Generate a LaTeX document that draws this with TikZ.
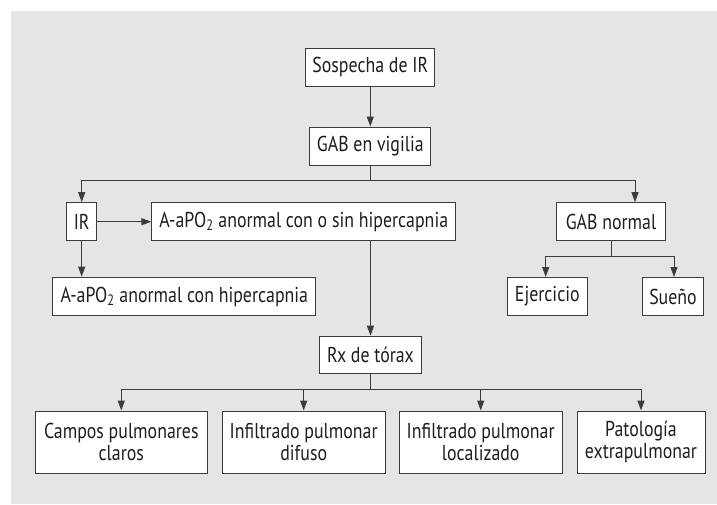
\documentclass[tikz,border=0pt]{standalone}
\usepackage{fontspec}
\setmainfont{PT Sans}[FakeStretch=0.83]
\usetikzlibrary{arrows.meta}
\definecolor{bg}{HTML}{E5E5E5}
\definecolor{ln}{HTML}{3C3C3C}
\definecolor{tx}{HTML}{1E1E1E}
\begin{document}
\begin{tikzpicture}[x=1pt,y=-1pt,
  box/.style={draw=ln,fill=white,line width=1pt,inner sep=0pt,
    minimum height=38pt,minimum width=#1,align=center,text=tx,
    font=\fontsize{21.5}{22.7}\selectfont},
  box/.default=60pt,
  tall/.style={minimum height=62pt},
  conn/.style={draw=ln,line width=1pt},
  arr/.style={conn,-{Triangle[length=10pt,width=7pt]}}]
\useasboundingbox (0,0) rectangle (717,504);
\fill[bg] (11,11) rectangle (717,504);
% nodes
\node[box=129pt] (sosp) at (370.3,67) {Sospecha de IR};
\node[box=121pt] (gab) at (370.3,146) {GAB en vigilia};
\node[box=30pt] (ir) at (81.7,221.7) {IR};
\node[box=304pt] (acs) at (303.8,221.7) {A-aPO\textsubscript{2} anormal con o sin hipercapnia};
\node[box=109pt] (gabn) at (611,221.7) {GAB normal};
\node[box=263pt,minimum height=38.7pt] (ahc) at (184.3,296.5) {A-aPO\textsubscript{2} anormal con hipercapnia};
\node[box=80pt] (ejer) at (547.3,296.5) {Ejercicio};
\node[box=61pt] (sueno) at (673,296.5) {Sueño};
\node[box=102pt,minimum height=37pt] (rx) at (370.5,354.7) {Rx de tórax};
\node[box=172pt,tall] (campos) at (121.3,442) {Campos pulmonares\\claros};
\node[box=163pt,tall] (difuso) at (303.7,442) {Infiltrado pulmonar\\difuso};
\node[box=163pt,tall] (local) at (480.7,442) {Infiltrado pulmonar\\localizado};
\node[box=128pt,tall] (pato) at (641,442) {Patología\\extrapulmonar};
% branch points
\coordinate (b1) at (370.3,180);
\coordinate (b2) at (611,256);
\coordinate (b3) at (370.5,389);
% connectors
\draw[arr] (sosp) -- (gab);
\draw[conn] (gab.south) -- (b1);
\draw[arr] (b1) -| (ir.north);
\draw[arr] (b1) -| ([xshift=24pt]gabn.north);
\draw[arr] (ir.east) -- (acs.west);
\draw[arr] (ir.south) -- (ir.south |- ahc.north);
\draw[arr] (rx.north |- acs.south) -- (rx.north);
\draw[conn] (gabn.south) -- (b2);
\draw[arr] (b2) -| ([xshift=-1.6pt]ejer.north);
\draw[arr] (b2) -| ([xshift=1pt]sueno.north);
\draw[conn] (rx.south) -- (b3);
\draw[arr] (b3) -| (campos.north);
\draw[arr] (b3) -| (difuso.north);
\draw[arr] (b3) -| (local.north);
\draw[arr] (b3) -| (pato.north);
\end{tikzpicture}
\end{document}
